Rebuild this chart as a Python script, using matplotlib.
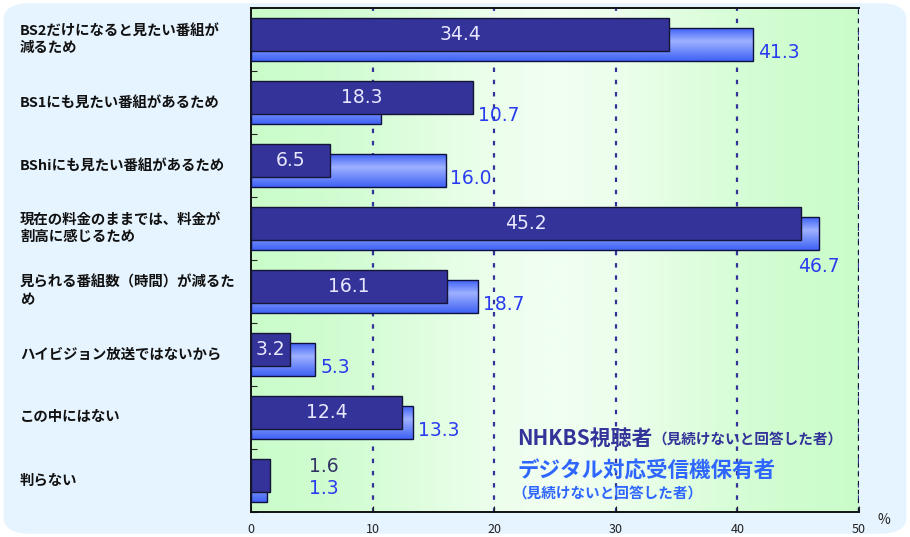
import matplotlib.pyplot as plt
import numpy as np
from matplotlib.patches import FancyBboxPatch
from matplotlib.colors import LinearSegmentedColormap

plt.rcParams['font.family'] = ['Noto Sans CJK JP', 'DejaVu Sans']

categories = [
    'BS2だけになると見たい番組が\n減るため',
    'BS1にも見たい番組があるため',
    'BShiにも見たい番組があるため',
    '現在の料金のままでは、料金が\n割高に感じるため',
    '見られる番組数（時間）が減るた\nめ',
    'ハイビジョン放送ではないから',
    'この中にはない',
    '判らない',
]
nhk_viewers = [34.4, 18.3, 6.5, 45.2, 16.1, 3.2, 12.4, 1.6]
digital_owners = [41.3, 10.7, 16.0, 46.7, 18.7, 5.3, 13.3, 1.3]
xticks = [0, 10, 20, 30, 40, 50]

navy = '#333399'
blue_txt = '#2a3cf0'
legend_blue = '#2f66ff'

fig = plt.figure(figsize=(9.1, 5.37), dpi=100)
fig.patch.set_facecolor('white')
bg = FancyBboxPatch((0.004, 0.006), 0.992, 0.988, boxstyle='round,pad=0,rounding_size=0.03',
                    transform=fig.transFigure, facecolor='#e6f4ff', edgecolor='none', zorder=-10)
fig.patches.append(bg)

ax = fig.add_axes([0.2758, 0.0466, 0.6681, 0.9385])
n = len(categories)
ax.set_xlim(0, 50)
ax.set_ylim(n, 0)

# green background, paler towards the middle
xs = np.linspace(0, 1, 256)
shade = np.exp(-((xs - 0.5) / 0.3) ** 2)
green = LinearSegmentedColormap.from_list('g', ['#c8fcc8', '#f0fff0'])
ax.imshow(shade[None, :], extent=(0, 50, n, 0), aspect='auto', cmap=green,
          vmin=0, vmax=1, zorder=0)

for g in xticks[1:]:
    ax.axvline(g, color=navy, ls=(0, (2, 3.5)), lw=1.6, zorder=1)

# lighter bars with a vertical gradient
ramp = np.concatenate([np.linspace(0, 1, 40), np.linspace(1, 0, 60)])
lightblue = LinearSegmentedColormap.from_list('b', ['#3f62f5', '#9db0ff'])
for i, v in enumerate(digital_owners):
    y0, y1 = i + 0.32, i + 0.84
    ax.imshow(ramp[:, None], extent=(0, v, y1, y0), aspect='auto', cmap=lightblue,
              vmin=0, vmax=1, zorder=2)
    ax.barh(i + 0.58, v, height=0.52, fill=False, edgecolor='#101040', lw=1.0, zorder=3)

ax.barh([i + 0.42 for i in range(n)], nhk_viewers, height=0.52, color=navy,
        edgecolor='#151535', lw=1.0, zorder=4)

num_font = dict(family='DejaVu Sans', fontsize=13.5)
for i, (a, b) in enumerate(zip(nhk_viewers, digital_owners)):
    if a > 3:
        ax.text(a / 2, i + 0.42, f'{a:.1f}', color='#e8e8ff', ha='center', va='center',
                zorder=5, **num_font)
    else:
        ax.text(6, i + 0.28, f'{a:.1f}', color='#333366', ha='center', va='center',
                zorder=5, **num_font)
        ax.text(6, i + 0.62, f'{b:.1f}', color=blue_txt, ha='center', va='center',
                zorder=5, **num_font)
        continue
    if b > 45:
        ax.text(b, i + 1.1, f'{b:.1f}', color=blue_txt, ha='center', va='center',
                zorder=5, **num_font)
    else:
        ax.text(max(a, b) + 0.4, i + 0.7, f'{b:.1f}', color=blue_txt, ha='left',
                va='center', zorder=5, **num_font)

ax.set_xticks(xticks)
ax.set_xticklabels([str(t) for t in xticks], fontsize=9, color='#222222')
ax.tick_params(axis='x', direction='in', length=4, pad=8, color='#222222')
ax.set_yticks(range(n + 1))
ax.set_yticklabels([])
ax.tick_params(axis='y', direction='in', length=4, color='#222222')

for s in ['left', 'bottom', 'top']:
    ax.spines[s].set_color('#111111')
    ax.spines[s].set_linewidth(1.4)
ax.spines['right'].set_visible(False)
ax.axvline(50, color='#111133', ls=(0, (2, 2)), lw=1.6, zorder=6)

for i, c in enumerate(categories):
    y = ax.transData.transform((0, i + 0.5))[1]
    fig.text(20 / 910, y / 537, c, ha='left', va='center', fontsize=10.4,
             fontweight='bold', color='#111111', linespacing=1.3)

fig.text(884 / 910, 1 - 520 / 537, '%', ha='center', va='center', fontsize=10, color='#222222')

t1 = ax.text(0.438, 0.146, 'NHKBS視聴者', transform=ax.transAxes, fontsize=15,
             fontweight='bold', color=navy, ha='left', va='center', zorder=7)
ax.annotate('（見続けないと回答した者）', xy=(1, 0.45), xycoords=t1, fontsize=10.5,
            fontweight='bold', color=navy, ha='left', va='center', zorder=7)
ax.text(0.438, 0.084, 'デジタル対応受信機保有者', transform=ax.transAxes, fontsize=15.5,
        fontweight='bold', color=legend_blue, ha='left', va='center', zorder=7)
ax.text(0.43, 0.036, '（見続けないと回答した者）', transform=ax.transAxes, fontsize=10.5,
        fontweight='bold', color=legend_blue, ha='left', va='center', zorder=7)

fig.savefig('out.png', dpi=100)
